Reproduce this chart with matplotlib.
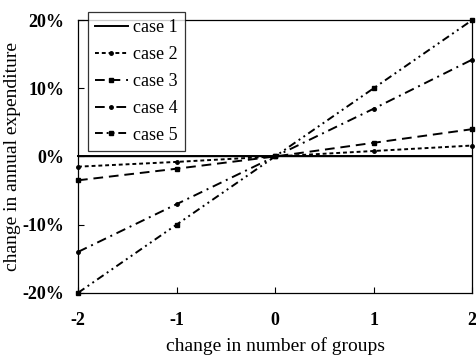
"""Change in annual expenditure vs change in number of groups, five cases."""

import matplotlib
matplotlib.use("Agg")
import matplotlib.pyplot as plt

group_change = [-2, -1, 0, 1, 2]
case_labels = ["case 1", "case 2", "case 3", "case 4", "case 5"]
case1 = [0.0, 0.0, 0.0, 0.0, 0.0]
case2 = [-1.5, -0.8, 0.0, 0.8, 1.6]
case3 = [-3.5, -1.8, 0.0, 2.0, 4.0]
case4 = [-14.0, -7.0, 0.0, 7.0, 14.2]
case5 = [-20.0, -10.0, 0.0, 10.0, 20.0]
y_ticks = [-20, -10, 0, 10, 20]
y_tick_labels = ["-20%", "-10%", "0%", "10%", "20%"]

plt.rcParams["font.family"] = ["Liberation Serif", "DejaVu Serif"]

fig = plt.figure(figsize=(4.77, 3.58), dpi=100)
ax = fig.add_axes([0.1635, 0.182, 0.8265, 0.762])

styles = [
    dict(linestyle="-", marker=None),
    dict(linestyle=(0, (2, 1.5)), marker="o", markersize=2.5),
    dict(linestyle=(0, (5, 3)), marker="s", markersize=2.5),
    dict(linestyle=(0, (5, 2.5, 1, 2.5)), marker="o", markersize=2.5),
    dict(linestyle=(0, (4, 2, 1, 2, 1, 2)), marker="s", markersize=2.5),
]
for vals, lab, st in zip([case1, case2, case3, case4, case5], case_labels, styles):
    ax.plot(group_change, vals, color="black", linewidth=1.4, label=lab,
            clip_on=False, **st)

ax.axhline(0, color="black", linewidth=1.0)
ax.set_xlim(-2, 2)
ax.set_ylim(-20, 20)
ax.set_xticks(group_change)
ax.set_xticklabels(["-2", "-1", "0", "1", "2"], fontweight="bold", fontsize=13)
ax.set_yticks(y_ticks)
ax.set_yticklabels(y_tick_labels, fontweight="bold", fontsize=13)
ax.tick_params(axis="x", direction="in", length=4, width=0.8, pad=14)
ax.tick_params(axis="y", direction="in", length=4, width=0.8, pad=10)
for sp in ax.spines.values():
    sp.set_linewidth(0.9)

ax.set_xlabel("change in number of groups", fontsize=14, labelpad=6)
ax.set_ylabel("change in annual expenditure", fontsize=14, labelpad=1)

leg = ax.legend(loc="upper left", bbox_to_anchor=(0.025, 1.03), fontsize=13,
                frameon=True, fancybox=False, edgecolor="black",
                handlelength=1.8, borderpad=0.4, labelspacing=0.55,
                handletextpad=0.3, borderaxespad=0.0)
leg.get_frame().set_linewidth(0.9)

fig.savefig("out.png", dpi=100)
plt.close(fig)
